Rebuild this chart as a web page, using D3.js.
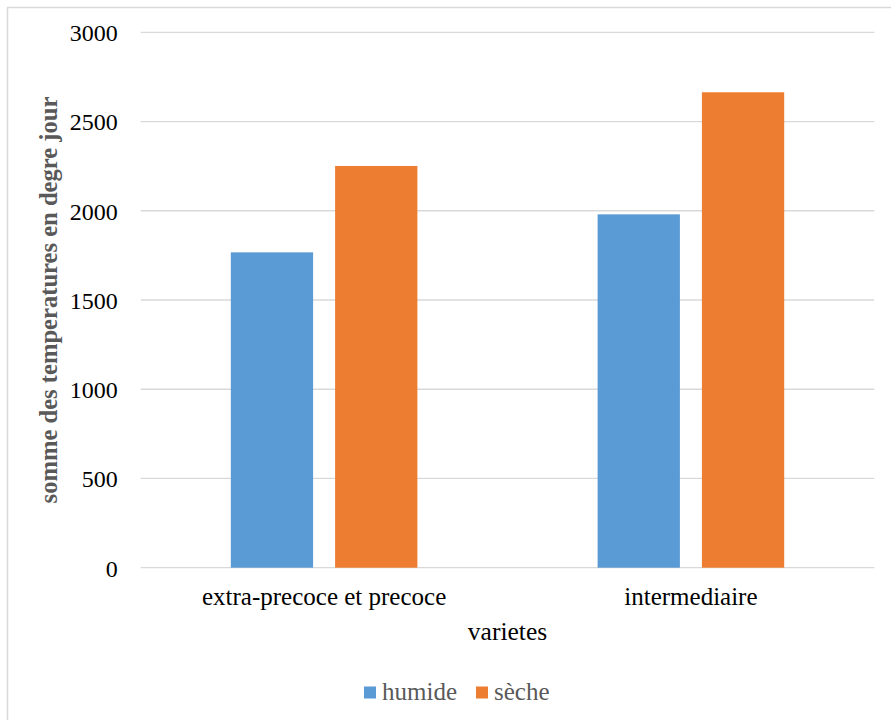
<!DOCTYPE html>
<html lang="fr">
<head>
<meta charset="UTF-8" />
<title>Somme des temperatures</title>
<script src="https://d3js.org/d3.v7.min.js"></script>
<style>
  body { margin: 0; background: #fff; }
  svg text { font-family: "Liberation Serif", "Times New Roman", serif; }
</style>
</head>
<body>
<svg id="chart" width="891" height="720"></svg>
<script>
// data
const categories = ["extra-precoce et precoce", "intermediaire"];
const seriesNames = ["humide", "sèche"];
const humide = [1767, 1980];
const seche = [2251, 2664];
const yTicks = [0, 500, 1000, 1500, 2000, 2500, 3000];
const colors = ["#5B9BD5", "#ED7D31"];

const rows = categories.map((c, i) => ({ cat: c, values: [humide[i], seche[i]] }));

const svg = d3.select("#chart");
const margin = { top: 32.3, right: 16.7, bottom: 152.3, left: 140.7 };
const width = 891 - margin.left - margin.right;
const height = 720 - margin.top - margin.bottom;

// outer chart border
svg.append("rect")
  .attr("x", 7.5).attr("y", 7.5)
  .attr("width", 900).attr("height", 730)
  .attr("fill", "none").attr("stroke", "#d9d9d9").attr("stroke-width", 1.5);

const g = svg.append("g").attr("transform", `translate(${margin.left},${margin.top})`);

const x0 = d3.scaleBand().domain(categories).range([0, width]);
const x1 = d3.scaleBand().domain(seriesNames).range([0, x0.bandwidth()])
  .paddingInner(0.211).paddingOuter(0.864);
const y = d3.scaleLinear().domain([0, 3000]).range([height, 0]);

// gridlines
g.append("g")
  .selectAll("line")
  .data(yTicks)
  .join("line")
  .attr("x1", 0).attr("x2", width)
  .attr("y1", d => y(d)).attr("y2", d => y(d))
  .attr("stroke", "#d9d9d9").attr("stroke-width", 1.3);

// bars
g.append("g")
  .selectAll("g")
  .data(rows)
  .join("g")
  .attr("transform", d => `translate(${x0(d.cat)},0)`)
  .selectAll("rect")
  .data(d => d.values.map((v, i) => ({ key: seriesNames[i], v, i })))
  .join("rect")
  .attr("x", d => x1(d.key))
  .attr("y", d => y(d.v))
  .attr("width", x1.bandwidth())
  .attr("height", d => height - y(d.v))
  .attr("fill", d => colors[d.i]);

// y axis labels
const yAxis = g.append("g")
  .call(d3.axisLeft(y).tickValues(yTicks).tickSize(0).tickPadding(23).tickFormat(d3.format("d")));
yAxis.select(".domain").remove();
yAxis.selectAll("text")
  .attr("fill", "#000")
  .style("font-size", "24px")
  .attr("dy", "0.35em");

// x axis labels
const xAxis = g.append("g")
  .attr("transform", `translate(0,${height})`)
  .call(d3.axisBottom(x0).tickSize(0).tickPadding(20));
xAxis.select(".domain").remove();
xAxis.selectAll("text")
  .attr("fill", "#000")
  .style("font-size", "25px");

// axis titles
svg.append("text")
  .attr("x", margin.left + width / 2)
  .attr("y", 640)
  .attr("text-anchor", "middle")
  .style("font-size", "25.5px")
  .attr("fill", "#000")
  .text("varietes");

svg.append("text")
  .attr("transform", `translate(57,${margin.top + height / 2}) rotate(-90)`)
  .attr("text-anchor", "middle")
  .style("font-size", "24.6px")
  .style("font-weight", "bold")
  .attr("fill", "#595959")
  .text("somme des temperatures en degre jour");

// legend
const legend = svg.append("g");
const legendX = [364, 476];
seriesNames.forEach((s, i) => {
  legend.append("rect")
    .attr("x", legendX[i]).attr("y", 686.5)
    .attr("width", 12).attr("height", 12)
    .attr("fill", colors[i]);
  legend.append("text")
    .attr("x", legendX[i] + 18).attr("y", 700)
    .style("font-size", "25px")
    .attr("fill", "#595959")
    .text(s);
});
</script>
</body>
</html>
